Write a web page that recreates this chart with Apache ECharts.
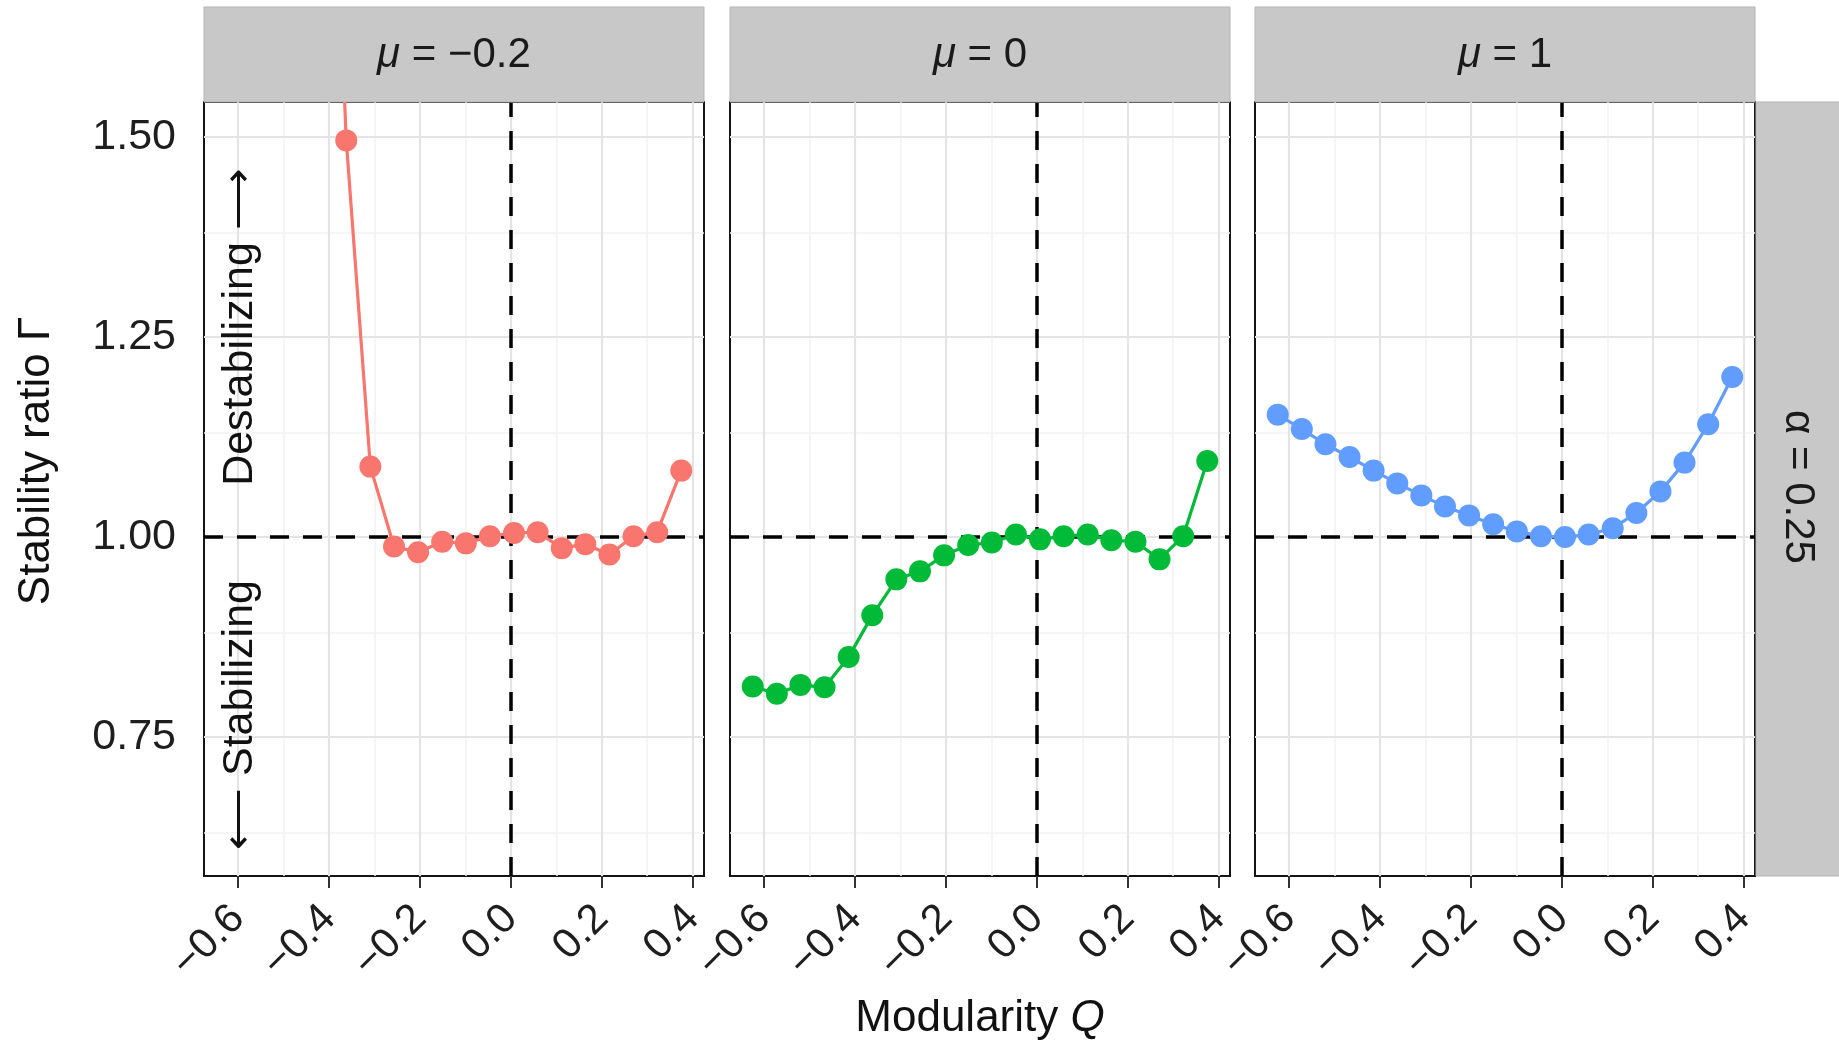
<!DOCTYPE html>
<html>
<head>
<meta charset="utf-8">
<script src="https://cdn.jsdelivr.net/npm/echarts@6/dist/echarts.min.js"></script>
<style>
html,body{margin:0;padding:0;background:#fff;}
#chart{width:1839px;height:1044px;}
</style>
</head>
<body>
<div id="chart"></div>
<script>
// ---------- data ----------
const Q = [-0.625, -0.572, -0.520, -0.467, -0.414, -0.362, -0.309, -0.257, -0.204, -0.151,
           -0.099, -0.046, 0.007, 0.059, 0.112, 0.164, 0.217, 0.270, 0.322, 0.375];
// mu = -0.2 (first points lie far above the visible range)
const gammaMuNeg02 = [null, null, null, null, 2.2, 1.496, 1.088, 0.988, 0.981, 0.994,
                      0.992, 1.001, 1.005, 1.006, 0.986, 0.991, 0.978, 1.001, 1.006, 1.083];
const gammaMu0 = [0.813, 0.804, 0.815, 0.812, 0.850, 0.902, 0.947, 0.957, 0.977, 0.990,
                  0.993, 1.003, 0.997, 1.001, 1.003, 0.996, 0.994, 0.972, 1.001, 1.095];
const gammaMu1 = [1.153, 1.135, 1.116, 1.100, 1.083, 1.067, 1.052, 1.038, 1.027, 1.016,
                  1.007, 1.001, 1.000, 1.003, 1.011, 1.030, 1.057, 1.093, 1.141, 1.200];
const panelTitles = ['-0.2', '0', '1'];
const rowLabel = 'α = 0.25';
const seriesColors = ['#F8766D', '#00BA38', '#619CFF'];
const xTicks = [-0.6, -0.4, -0.2, 0.0, 0.2, 0.4];
const xMinor = [-0.5, -0.3, -0.1, 0.1, 0.3];
const yTicks = [0.75, 1.00, 1.25, 1.50];
const yMinor = [0.625, 0.875, 1.125, 1.375];
const xRange = [-0.675, 0.425];
const yRange = [0.576, 1.544];

// ---------- layout ----------
const FONT = '"Liberation Sans", Arial, Helvetica, sans-serif';
const lefts = [204, 730, 1255];
const PW = 500, PT = 102, PH = 774;
const allVals = [gammaMuNeg02, gammaMu0, gammaMu1];

const minus = s => s.replace('-', '\u2212');

const grids = [], xAxes = [], yAxes = [], series = [], graphics = [];
for (let p = 0; p < 3; p++) {
  grids.push({left: lefts[p], top: PT, width: PW, height: PH, show: true,
    backgroundColor: '#fff', borderColor: '#141414', borderWidth: 2, z: 0});
  xAxes.push({type: 'value', gridIndex: p, min: xRange[0], max: xRange[1],
    axisLine: {show: false}, splitLine: {show: false},
    axisTick: {show: true, customValues: xTicks, length: 12, lineStyle: {color: '#333', width: 2}},
    axisLabel: {show: true, customValues: xTicks, rotate: 45, margin: 36, fontSize: 42,
      fontFamily: FONT, color: '#1e1e1e',
      formatter: v => minus(v.toFixed(1))}});
  yAxes.push({type: 'value', gridIndex: p, min: yRange[0], max: yRange[1],
    axisLine: {show: false}, splitLine: {show: false},
    axisTick: {show: p === 0, customValues: yTicks, length: 12, lineStyle: {color: '#333', width: 2}},
    axisLabel: {show: p === 0, customValues: yTicks, margin: 28, fontSize: 43,
      fontFamily: FONT, color: '#1e1e1e', formatter: v => v.toFixed(2)}});

  const ml = [];
  xMinor.forEach(v => ml.push({xAxis: v, lineStyle: {color: '#f2f2f2', width: 1.5, type: 'solid'}}));
  yMinor.forEach(v => ml.push({yAxis: v, lineStyle: {color: '#f2f2f2', width: 1.5, type: 'solid'}}));
  xTicks.forEach(v => ml.push({xAxis: v, lineStyle: {color: '#e4e4e4', width: 2.2, type: 'solid'}}));
  yTicks.forEach(v => ml.push({yAxis: v, lineStyle: {color: '#e4e4e4', width: 2.2, type: 'solid'}}));
  ml.push({yAxis: 1, lineStyle: {color: '#000', width: 3.5, type: [19, 14]}});
  ml.push({xAxis: 0, lineStyle: {color: '#000', width: 3.5, type: [19, 14]}});

  series.push({type: 'line', xAxisIndex: p, yAxisIndex: p, data: [], z: 1, silent: true,
    markLine: {silent: true, symbol: ['none', 'none'], label: {show: false}, z: 1,
      animation: false, data: ml}});

  series.push({type: 'line', xAxisIndex: p, yAxisIndex: p, z: 5, clip: true,
    data: Q.map((q, i) => [q, allVals[p][i]]),
    symbol: 'circle', symbolSize: 22, showSymbol: true,
    itemStyle: {color: seriesColors[p]},
    lineStyle: {color: seriesColors[p], width: 3.2},
    animation: false});

  // strip on top
  graphics.push({type: 'rect', shape: {x: lefts[p], y: 7, width: PW, height: PT - 7},
    style: {fill: '#c8c8c8', stroke: '#b3b3b3', lineWidth: 1}, z: 10});
  graphics.push({type: 'text', x: lefts[p] + PW / 2, y: 55, z: 11,
    style: {text: '{i|μ} = ' + minus(panelTitles[p]), align: 'center', verticalAlign: 'middle',
      font: '42px ' + FONT, fill: '#1a1a1a',
      rich: {i: {fontStyle: 'italic', fontSize: 42, fontFamily: FONT, fill: '#1a1a1a'}}}});
}

// right strip
graphics.push({type: 'rect', shape: {x: 1756, y: PT, width: 90, height: PH},
  style: {fill: '#c8c8c8', stroke: '#b3b3b3', lineWidth: 1}, z: 10});
graphics.push({type: 'text', x: 1798, y: PT + PH / 2 - 2, rotation: -Math.PI / 2, z: 11,
  style: {text: rowLabel, align: 'center', verticalAlign: 'middle',
    font: '42px ' + FONT, fill: '#1a1a1a'}});

// axis titles
graphics.push({type: 'text', x: 37, y: 461, rotation: Math.PI / 2, z: 11,
  style: {text: 'Stability ratio Γ', align: 'center', verticalAlign: 'middle',
    font: '44px ' + FONT, fill: '#111'}});
graphics.push({type: 'text', x: 980, y: 1019, z: 11,
  style: {text: 'Modularity {i|Q}', align: 'center', verticalAlign: 'middle',
    font: '44px ' + FONT, fill: '#111',
    rich: {i: {fontStyle: 'italic', fontSize: 44, fontFamily: FONT, fill: '#111'}}}});

// in-panel annotations
graphics.push({type: 'text', x: 240, y: 327, rotation: Math.PI / 2, z: 11,
  style: {text: 'Destabilizing \u27F6', align: 'center', verticalAlign: 'middle',
    font: '43px ' + FONT, fill: '#111'}});
graphics.push({type: 'text', x: 240, y: 715, rotation: Math.PI / 2, z: 11,
  style: {text: '\u27F5 Stabilizing', align: 'center', verticalAlign: 'middle',
    font: '43px ' + FONT, fill: '#111'}});

const chart = echarts.init(document.getElementById('chart'), null, {renderer: 'canvas'});
chart.setOption({
  animation: false,
  backgroundColor: '#fff',
  grid: grids, xAxis: xAxes, yAxis: yAxes, series: series, graphic: graphics
});
</script>
</body>
</html>
